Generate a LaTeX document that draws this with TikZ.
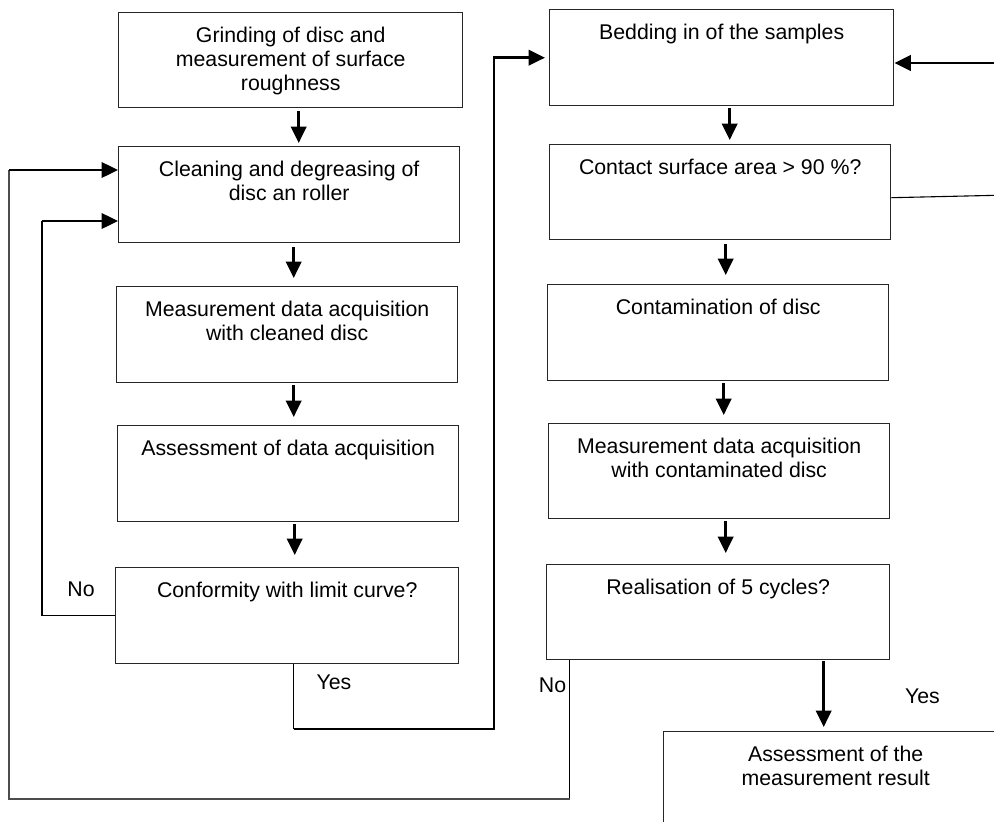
\documentclass[tikz,border=0pt]{standalone}
\usepackage{fontspec}
\setmainfont{Liberation Sans}
\usetikzlibrary{arrows.meta,calc}
\begin{document}
\begin{tikzpicture}[x=1pt,y=-1pt,
  box/.style={draw=black!85,line width=1.4pt,inner sep=0pt,anchor=north west},
  txt/.style={anchor=north,inner sep=0pt,align=center,font=\fontsize{21.3pt}{24pt}\selectfont},
  lbl/.style={anchor=base,inner sep=0pt,font=\fontsize{21.3pt}{24pt}\selectfont},
  arr/.style={line width=2.5pt,-{Triangle[length=16.5pt 0 1,width=15.5pt 0 1]}},
  lnthin/.style={line width=1.1pt},
  lngray/.style={line width=1.6pt,draw=black!70},
]
\useasboundingbox (0,0) rectangle (994,822);
\fill[white] (0,0) rectangle (994,822);
\clip (0,0) rectangle (994,822);

% left column
\node[box,minimum width=344pt,minimum height=95pt] (b1) at (118,12) {};
\node[box,minimum width=341pt,minimum height=96pt] (b2) at (118,146) {};
\node[box,minimum width=341pt,minimum height=96pt] (b3) at (116,286) {};
\node[box,minimum width=341pt,minimum height=96pt] (b4) at (117,425) {};
\node[box,minimum width=343pt,minimum height=96pt] (b5) at (115,567) {};
% right column
\node[box,minimum width=344pt,minimum height=96pt] (r1) at (549,9) {};
\node[box,minimum width=341pt,minimum height=95pt] (r2) at (549,144) {};
\node[box,minimum width=341pt,minimum height=96pt] (r3) at (547,284) {};
\node[box,minimum width=341pt,minimum height=95pt] (r4) at (548,423) {};
\node[box,minimum width=343pt,minimum height=95pt] (r5) at (546,564) {};
\node[box,minimum width=344pt,minimum height=120pt] (r6) at (663,731) {};

% texts
\node[txt] (t1) at ([yshift=-13.2pt]b1.north) {\strut Grinding of disc and\\measurement of surface\\roughness};
\node[txt] (t2) at ([yshift=-13.2pt]b2.north) {\strut Cleaning and degreasing of\\disc an roller};
\node[txt] (t3) at ([yshift=-13.2pt]b3.north) {\strut Measurement data acquisition\\with cleaned disc};
\node[txt] (t4) at ([yshift=-13.2pt]b4.north) {\strut Assessment of data acquisition};
\node[txt] (t5) at ([yshift=-13.2pt]b5.north) {\strut Conformity with limit curve?};
\node[txt] (s1) at ([yshift=-13.2pt]r1.north) {\strut Bedding in of the samples};
\node[txt] (s2) at ([yshift=-13.2pt]r2.north) {\strut Contact surface area > 90 \%?};
\node[txt] (s3) at ([yshift=-13.2pt]r3.north) {\strut Contamination of disc};
\node[txt] (s4) at ([yshift=-13.2pt]r4.north) {\strut Measurement data acquisition\\with contaminated disc};
\node[txt] (s5) at ([yshift=-13.2pt]r5.north) {\strut Realisation of 5 cycles?};
\node[txt] (s6) at ([yshift=-13.2pt]r6.north) {\strut Assessment of the\\measurement result};

% labels
\node[lbl] (no1) at (81,596) {No};
\node[lbl] (yes1) at (334,689) {Yes};
\node[lbl] (no2) at (552.5,692) {No};
\node[lbl] (yes2) at (922.5,703) {Yes};

% straight arrows
\draw[arr,shorten <=3pt,shorten >=3pt] ([xshift=8pt]b1.south) -- ([xshift=8pt]b1.south |- b2.north);
\draw[arr,shorten <=4pt,shorten >=8pt] ([xshift=4.5pt]b2.south) -- ([xshift=4.5pt]b2.south |- b3.north);
\draw[arr,shorten <=2pt,shorten >=8pt] ([xshift=6.5pt]b3.south) -- ([xshift=6.5pt]b3.south |- b4.north);
\draw[arr,shorten <=2pt,shorten >=12pt] ([xshift=6.5pt]b4.south) -- ([xshift=6.5pt]b4.south |- b5.north);
\draw[arr,shorten <=2pt,shorten >=4pt] ([xshift=8pt]r1.south) -- ([xshift=8pt]r1.south |- r2.north);
\draw[arr,shorten <=4pt,shorten >=9pt] ([xshift=5.5pt]r2.south) -- ([xshift=5.5pt]r2.south |- r3.north);
\draw[arr,shorten <=2pt,shorten >=8pt] ([xshift=5.5pt]r3.south) -- ([xshift=5.5pt]r3.south |- r4.north);
\draw[arr,shorten <=2pt,shorten >=11pt] ([xshift=6.5pt]r4.south) -- ([xshift=6.5pt]r4.south |- r5.north);
\draw[arr,shorten <=1pt,shorten >=4pt] ([xshift=105.5pt]r5.south) -- ([xshift=105.5pt]r5.south |- r6.north);

% No loop from conformity
\coordinate (n1c) at (42,221);
\draw[lnthin] (b5.west) -| (n1c);
\draw[arr] (n1c) -- (n1c -| b2.west);

% Yes path from conformity to bedding
\coordinate (y1a) at ([xshift=6.5pt]b5.south |- 0,729);
\coordinate (y1b) at (494,729);
\draw[lnthin] ([xshift=6.5pt]b5.south) -- (y1a);
\draw[arr,shorten >=4pt] (y1a) -- (y1b) |- (r1.west);

% No loop from realisation
\coordinate (n2a) at ([xshift=-148.5pt]r5.south |- 0,799);
\coordinate (n2b) at (9,799);
\coordinate (n2c) at (9,170);
\draw[lnthin] ([xshift=-148.5pt]r5.south) -- (n2a);
\draw[lngray] (n2a) -- (n2b) -- (n2c);
\draw[arr] (n2c) -- (n2c -| b2.west);

% lines at right edge
\coordinate (r1in) at (1010,63);
\draw[arr] (r1in) -- (r1in -| r1.east);
\coordinate (r2out) at (1010,195);
\draw[lnthin] ([yshift=-5.5pt]r2.east) -- (r2out);
\end{tikzpicture}
\end{document}
